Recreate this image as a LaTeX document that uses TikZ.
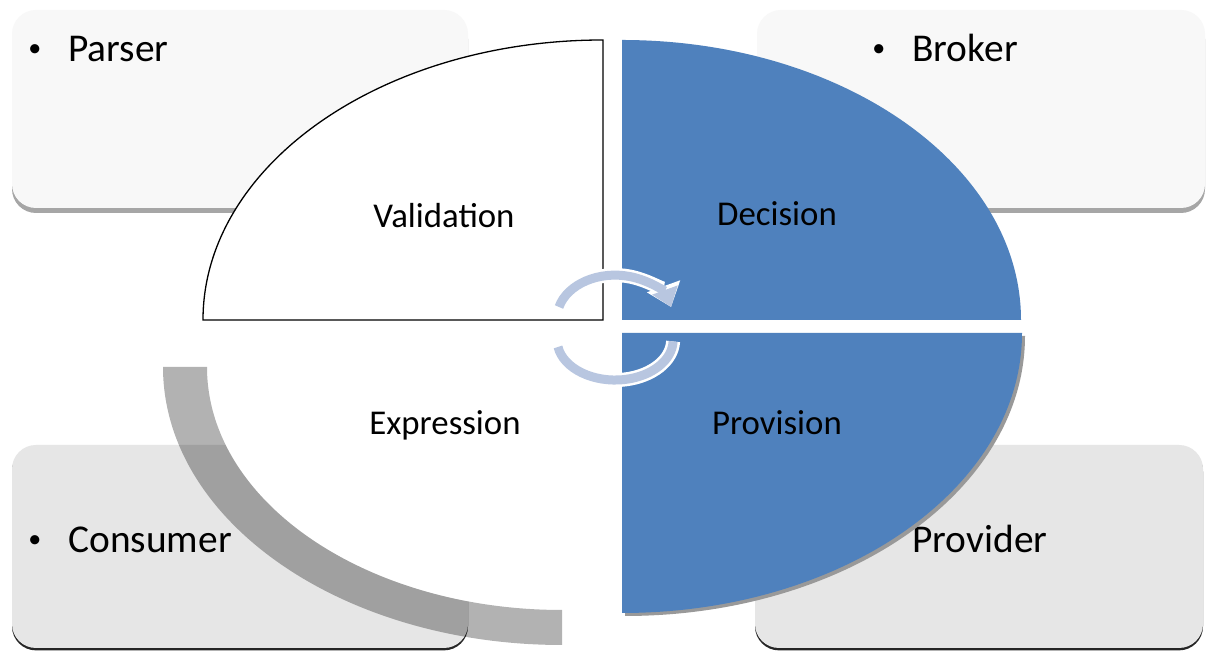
\documentclass[tikz,border=0pt]{standalone}
\usepackage{fontspec}
\setmainfont{Carlito}
\usetikzlibrary{
	arrows.meta,
	shadows
}
\definecolor{cardlight}{RGB}{248,248,248}
\definecolor{carddark}{RGB}{230,230,230}
\definecolor{quarterblue}{RGB}{79,129,189}
\definecolor{ringblue}{RGB}{184,198,224}
\newcommand{\dotitem}{\makebox[20pt][l]{\raisebox{2.6pt}{\fontsize{13}{13}\selectfont\textbullet}}}

\begin{document}
\begin{tikzpicture}[
	x = 0.5pt, y = 0.5pt,
	card/.style args = {#1}{
		rectangle, rounded corners=12pt,
		fill=#1, inner sep=0pt
	},
	topcard/.style = {
		card=cardlight, minimum height=99pt,
		drop shadow={shadow xshift=0pt, shadow yshift=-2.5pt, fill=black!35, opacity=1}
	},
	bottomcard/.style = {
		card=carddark, minimum height=101.5pt,
		drop shadow={shadow xshift=0pt, shadow yshift=-1.2pt, fill=black!85, opacity=1}
	},
	item/.style = {
		anchor=base west, inner sep=0pt,
		font=\fontsize{19.7}{24}\selectfont
	},
	part/.style = {
		anchor=base, inner sep=0pt,
		font=\fontsize{17.4}{21}\selectfont
	},
	ring/.style = {
		draw=ringblue, line width=4.5pt,
		preaction={draw=white, line width=7pt}
	},
	ring tip/.style = {
		draw=ringblue, line width=4.5pt,
		-{Triangle[width=13pt, length=9pt]},
		preaction={draw=white, line width=7pt, -{Triangle[width=17pt, length=11pt]}}
	}
]
	\useasboundingbox [fill=white] (0,0) rectangle (1206,651);

	\node [topcard, minimum width=228pt] (parser box) at (240,542) {};
	\node [topcard, minimum width=224pt] (broker box) at (981,542) {};
	\node [bottomcard, minimum width=228pt] (consumer box) at (240,104.5) {};
	\node [bottomcard, minimum width=224pt] (provider box) at (979,104.5) {};
	\node [item] (provider) at (872,98) {\dotitem Provider};

	\fill [white] (562,284) -- (207,284)
		arc [start angle=180, end angle=270, x radius=355, y radius=243] -- cycle;
	\fill [black, fill opacity=0.3] (163,284) -- (207,284)
		arc [start angle=180, end angle=270, x radius=355, y radius=243] -- (562,6)
		arc [start angle=270, end angle=180, x radius=399, y radius=278] -- cycle;
	\filldraw [fill=white, draw=black, line width=0.65pt] (603,331) -- (203,331)
		arc [start angle=180, end angle=90, x radius=400, y radius=280] -- cycle;
	\fill [quarterblue] (622,331) -- (622,611)
		arc [start angle=90, end angle=0, x radius=399, y radius=280] -- cycle;
	\fill [quarterblue, drop shadow={shadow xshift=1.5pt, shadow yshift=-1.5pt, fill=black!40, opacity=1}]
		(622,318) -- (1022,318)
		arc [start angle=0, end angle=-90, x radius=400, y radius=280] -- cycle;

	\coordinate (turn top) at (559,344);
	\coordinate (turn bottom) at (558,304);
	\draw [ring tip] (turn top) arc [start angle=165, end angle=15, x radius=58, y radius=43];
	\draw [ring] (turn bottom) arc [start angle=190, end angle=358, x radius=58, y radius=40];

	\node [item] (parser) at (28,589) {\dotitem Parser};
	\node [item] (broker) at (872,589) {\dotitem Broker};
	\node [item] (consumer) at (28,98) {\dotitem Consumer};

	\node [part] (validation) at (444,423) {Validation};
	\node [part] (decision) at (777,425) {Decision};
	\node [part] (expression) at (445,216) {Expression};
	\node [part] (provision) at (777,216) {Provision};
\end{tikzpicture}
\end{document}
